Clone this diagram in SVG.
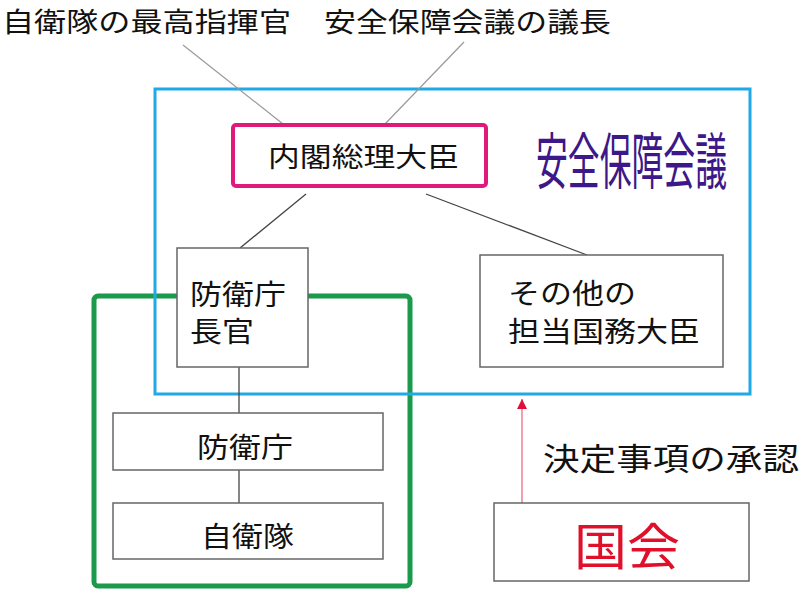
<svg xmlns="http://www.w3.org/2000/svg" width="800" height="591" viewBox="0 0 800 591">
<style>
text{font-family:"Noto Sans CJK JP","Noto Sans CJK SC",sans-serif;fill:#111;dominant-baseline:central}
.box{fill:#fff;stroke:#666;stroke-width:1.5}
.ln{stroke:#444;stroke-width:1.3;fill:none}
.lt{stroke:#999;stroke-width:1.2;fill:none}
</style>
<defs>
<marker id="ah" viewBox="0 0 10 10" refX="10" refY="5" markerWidth="10" markerHeight="10" markerUnits="userSpaceOnUse" orient="auto">
<path d="M0,0 L10,5 L0,10 Z" fill="#e0103a"/>
</marker>
</defs>
<rect width="800" height="591" fill="#fff"/>
<g id="defense-group">
<rect x="94" y="296" width="316" height="290" rx="4" fill="none" stroke="#1a9a4a" stroke-width="5"/>
</g>
<g id="security-council">
<rect x="155" y="89" width="595" height="305" fill="none" stroke="#1fa9e6" stroke-width="3"/>
<text transform="translate(536,157) scale(1,1.95)" x="0" y="0" font-size="31.5" textLength="191" lengthAdjust="spacingAndGlyphs" style="fill:#3c1888">安全保障会議</text>
</g>
<g id="labels">
<text x="2" y="20" font-size="27" textLength="289" lengthAdjust="spacingAndGlyphs">自衛隊の最高指揮官</text>
<text x="324" y="20" font-size="27" textLength="287" lengthAdjust="spacingAndGlyphs">安全保障会議の議長</text>
<text x="543" y="456" font-size="31" textLength="256" lengthAdjust="spacingAndGlyphs">決定事項の承認</text>
</g>
<g id="connectors">
<line class="lt" x1="183" y1="45" x2="283" y2="124"/>
<line class="lt" x1="464" y1="42" x2="385" y2="124"/>
<line class="ln" x1="306" y1="194" x2="240" y2="248"/>
<line class="ln" x1="426" y1="194" x2="587" y2="255"/>
<line class="ln" x1="239" y1="367" x2="239" y2="413"/>
<line class="ln" x1="239" y1="470" x2="239" y2="503"/>
<line x1="522" y1="503" x2="522" y2="399" stroke="#e8607a" stroke-width="1.2" marker-end="url(#ah)"/>
</g>
<g id="pm">
<rect x="233" y="125" width="253" height="61" rx="3" fill="#fff" stroke="#e0197a" stroke-width="4"/>
<text x="268" y="155" font-size="27" textLength="191" lengthAdjust="spacingAndGlyphs">内閣総理大臣</text>
</g>
<g id="director">
<rect class="box" x="177" y="248" width="131" height="119"/>
<text x="190" y="293" font-size="28" textLength="96" lengthAdjust="spacingAndGlyphs">防衛庁</text>
<text x="190" y="330" font-size="28" textLength="64" lengthAdjust="spacingAndGlyphs">長官</text>
</g>
<g id="other-ministers">
<rect class="box" x="480" y="255" width="243" height="112"/>
<text x="508" y="292" font-size="28" textLength="128" lengthAdjust="spacingAndGlyphs">その他の</text>
<text x="508" y="330" font-size="28" textLength="192" lengthAdjust="spacingAndGlyphs">担当国務大臣</text>
</g>
<g id="agency">
<rect class="box" x="113" y="413" width="270" height="57"/>
<text x="197" y="446" font-size="28" textLength="96" lengthAdjust="spacingAndGlyphs">防衛庁</text>
</g>
<g id="sdf">
<rect class="box" x="113" y="503" width="270" height="56"/>
<text x="201" y="535" font-size="28" textLength="93" lengthAdjust="spacingAndGlyphs">自衛隊</text>
</g>
<g id="diet">
<rect class="box" x="494" y="503" width="255" height="78"/>
<text x="574" y="543" font-size="50" textLength="106" lengthAdjust="spacingAndGlyphs" style="fill:#e0102a">国会</text>
</g>
</svg>
